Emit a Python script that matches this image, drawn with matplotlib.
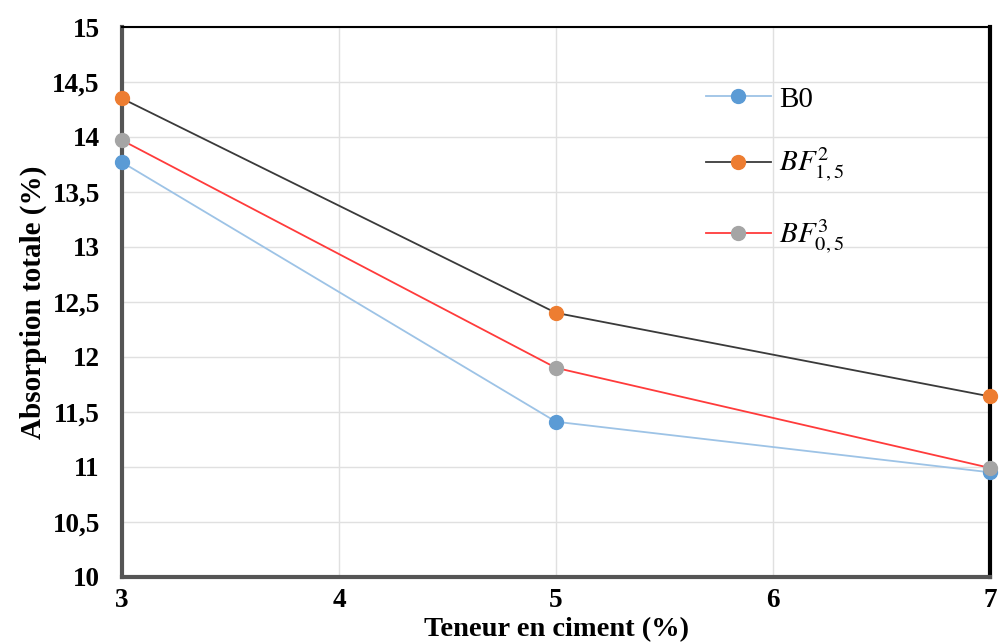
import matplotlib
matplotlib.use('Agg')
import matplotlib.pyplot as plt

# Data
cement = [3, 5, 7]
b0 = [13.77, 11.41, 10.95]
bf_15 = [14.35, 12.40, 11.64]
bf_05 = [13.97, 11.90, 10.99]
y_ticks = [10, 10.5, 11, 11.5, 12, 12.5, 13, 13.5, 14, 14.5, 15]
x_ticks = [3, 4, 5, 6, 7]

plt.rcParams['font.family'] = ['Liberation Serif', 'DejaVu Serif']
plt.rcParams['mathtext.fontset'] = 'stix'

fig, ax = plt.subplots(figsize=(10, 6.43), dpi=100)
fig.subplots_adjust(left=0.122, right=0.99, top=0.958, bottom=0.103)

ax.plot(cement, b0, color='#9dc3e6', lw=1.3, marker='o', ms=10,
        mfc='#5b9bd5', mec='#5b9bd5', label='B0', clip_on=False, zorder=3)
ax.plot(cement, bf_15, color='#3a3a3a', lw=1.3, marker='o', ms=10,
        mfc='#ed7d31', mec='#ed7d31', label=r'$BF^{2}_{1,5}$', clip_on=False, zorder=3)
ax.plot(cement, bf_05, color='#ff3b3b', lw=1.3, marker='o', ms=10,
        mfc='#a5a5a5', mec='#a5a5a5', label=r'$BF^{3}_{0,5}$', clip_on=False, zorder=3)

ax.set_xlim(3, 7)
ax.set_ylim(10, 15)
ax.set_xticks(x_ticks)
ax.set_yticks(y_ticks)
ax.set_yticklabels([f'{v:g}'.replace('.', ',') for v in y_ticks])
ax.tick_params(axis='y', length=0, labelsize=19.5, pad=16)
ax.tick_params(axis='x', length=0, labelsize=19.5, pad=8)
for lbl in ax.get_xticklabels() + ax.get_yticklabels():
    lbl.set_fontweight('bold')

ax.grid(True, color='#e0e0e0', lw=1)
ax.set_axisbelow(True)

ax.spines['left'].set_color('#555555')
ax.spines['left'].set_linewidth(3)
ax.spines['bottom'].set_color('#555555')
ax.spines['bottom'].set_linewidth(3)
ax.spines['right'].set_color('black')
ax.spines['right'].set_linewidth(3)
ax.spines['top'].set_color('black')
ax.spines['top'].set_linewidth(1.5)

ax.set_xlabel('Teneur en ciment (%)', fontsize=20.5, fontweight='bold', va='bottom')
ax.xaxis.set_label_coords(0.5, -0.119)
ax.set_ylabel('Absorption totale (%)', fontsize=21, fontweight='bold', labelpad=4)

ax.legend(loc='upper left', bbox_to_anchor=(0.643, 0.94), frameon=False,
          fontsize=21, labelspacing=1.15, handlelength=2.2, handletextpad=0.3)

fig.savefig('out.png', dpi=100)
